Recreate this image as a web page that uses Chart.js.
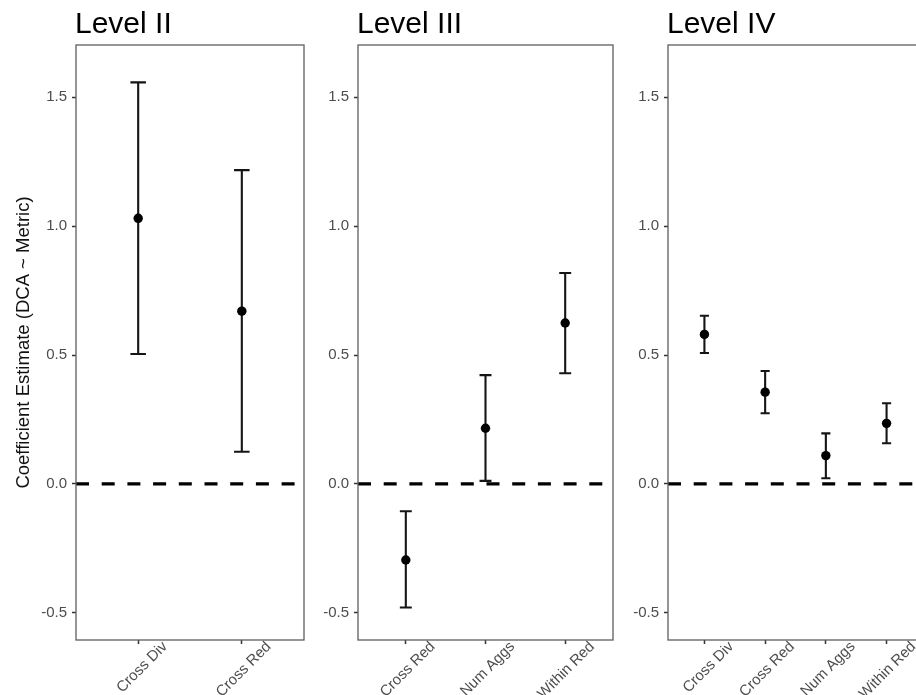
<!DOCTYPE html>
<html>
<head>
<meta charset="utf-8">
<script src="https://cdn.jsdelivr.net/npm/chart.js@4.4.1/dist/chart.umd.min.js"></script>
<style>
  html, body { margin: 0; padding: 0; background: #fff; overflow: hidden; }
  body { width: 916px; height: 695px; position: relative; }
  canvas { position: absolute; top: 0; }
</style>
</head>
<body>
<canvas id="panelII" width="310" height="695" style="left:0px"></canvas>
<canvas id="panelIII" width="308" height="695" style="left:310px"></canvas>
<canvas id="panelIV" width="308" height="695" style="left:620px"></canvas>
<script>
/* ---------- data ---------- */
const yTicks = [-0.5, 0, 0.5, 1.0, 1.5];
const yTitle = "Coefficient Estimate (DCA ~ Metric)";

const catsII = ["Cross Div", "Cross Red"];
const estII = [1.030, 0.670];
const lowII = [0.504, 0.125];
const highII = [1.557, 1.217];

const catsIII = ["Cross Red", "Num Aggs", "Within Red"];
const estIII = [-0.295, 0.216, 0.624];
const lowIII = [-0.479, 0.012, 0.429];
const highIII = [-0.106, 0.422, 0.818];

const catsIV = ["Cross Div", "Cross Red", "Num Aggs", "Within Red"];
const estIV = [0.580, 0.356, 0.110, 0.235];
const lowIV = [0.508, 0.274, 0.022, 0.158];
const highIV = [0.652, 0.438, 0.196, 0.313];

/* ---------- look ---------- */
const FONT = "'Liberation Sans', Arial, sans-serif";
const TICK_GREY = "#4d4d4d";

Chart.defaults.font.family = FONT;
Chart.defaults.animation = false;

// error bars, zero line, panel box and facet title
const errorBars = {
    id: "errbars",
    beforeDatasetsDraw(chart, args, opts) {
        const { ctx, chartArea: a, scales: { x, y } } = chart;
        ctx.save();
        const y0 = y.getPixelForValue(0);
        ctx.beginPath();
        ctx.setLineDash([13, 12.7]);
        ctx.lineWidth = 3.3;
        ctx.strokeStyle = "#000";
        ctx.moveTo(a.left, y0);
        ctx.lineTo(a.right, y0);
        ctx.stroke();
        ctx.setLineDash([]);

        ctx.lineWidth = 2.1;
        ctx.strokeStyle = "#151515";
        opts.low.forEach((lo, i) => {
            const hi = opts.high[i];
            const xc = x.getPixelForValue(i);
            const xl = x.getPixelForValue(i - opts.cap / 2);
            const xr = x.getPixelForValue(i + opts.cap / 2);
            const yl = y.getPixelForValue(lo);
            const yh = y.getPixelForValue(hi);
            ctx.beginPath();
            ctx.moveTo(xc, yl); ctx.lineTo(xc, yh);
            ctx.moveTo(xl, yl); ctx.lineTo(xr, yl);
            ctx.moveTo(xl, yh); ctx.lineTo(xr, yh);
            ctx.stroke();
        });
        ctx.restore();
    },
    afterDraw(chart, args, opts) {
        const { ctx, chartArea: a } = chart;
        ctx.save();
        ctx.strokeStyle = "#5e5e5e";
        ctx.lineWidth = 1.3;
        ctx.strokeRect(a.left, a.top, a.right - a.left, a.bottom - a.top);
        ctx.fillStyle = "#000";
        ctx.font = "30px " + FONT;
        ctx.textBaseline = "alphabetic";
        ctx.textAlign = "left";
        ctx.fillText(opts.title, a.left - 1, 33);
        ctx.restore();
    }
};

function makePanel(id, title, cats, est, low, high, axisWidth, padRight, showTitle) {
    new Chart(document.getElementById(id), {
        type: "scatter",
        data: {
            datasets: [{
                data: est.map((v, i) => ({ x: i, y: v })),
                pointRadius: 4.7,
                pointHoverRadius: 4.7,
                backgroundColor: "#000",
                borderWidth: 0
            }]
        },
        options: {
            responsive: false,
            layout: { padding: { top: 45, right: padRight, bottom: 0, left: 0 } },
            plugins: {
                legend: { display: false },
                tooltip: { enabled: false },
                errbars: { title: title, low: low, high: high, cap: 0.15 }
            },
            scales: {
                x: {
                    type: "linear",
                    min: -0.6,
                    max: cats.length - 0.4,
                    afterBuildTicks: s => { s.ticks = cats.map((c, i) => ({ value: i })); },
                    afterFit: s => { s.height = 55; s.paddingLeft = 0; s.paddingRight = 0; },
                    grid: { display: true, drawOnChartArea: false, drawTicks: true, tickLength: 4, tickColor: "#333", tickWidth: 1.5 },
                    border: { display: false },
                    ticks: {
                        autoSkip: false,
                        minRotation: 45,
                        maxRotation: 45,
                        labelOffset: 27,
                        padding: -6,
                        color: TICK_GREY,
                        font: { size: 15 },
                        callback: (v, i) => cats[i]
                    }
                },
                y: {
                    min: -0.605,
                    max: 1.702,
                    afterBuildTicks: s => { s.ticks = yTicks.map(v => ({ value: v })); },
                    afterFit: s => { s.width = axisWidth; s.paddingTop = 0; s.paddingBottom = 0; },
                    grid: { display: true, drawOnChartArea: false, drawTicks: true, tickLength: 4, tickColor: "#333", tickWidth: 1.5 },
                    border: { display: false },
                    ticks: {
                        padding: 5,
                        color: TICK_GREY,
                        font: { size: 15 },
                        callback: v => v.toFixed(1)
                    },
                    title: {
                        display: showTitle,
                        text: yTitle,
                        color: "#111",
                        font: { size: 18.5 },
                        padding: { top: 13, bottom: 0 }
                    }
                }
            }
        },
        plugins: [errorBars]
    });
}

makePanel("panelII", "Level II", catsII, estII, lowII, highII, 76, 6, true);
makePanel("panelIII", "Level III", catsIII, estIII, lowIII, highIII, 48, 5, false);
makePanel("panelIV", "Level IV", catsIV, estIV, lowIV, highIV, 48, 5, false);
</script>
</body>
</html>
